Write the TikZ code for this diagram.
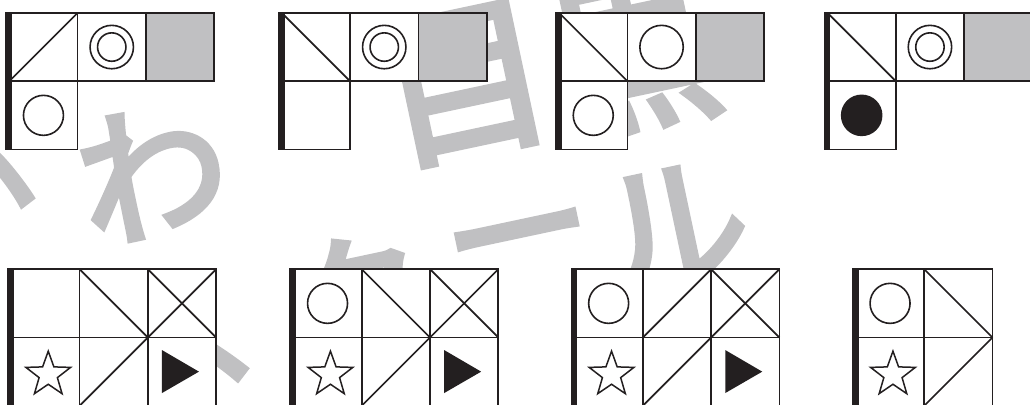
\documentclass[tikz,border=0pt]{standalone}
\usepackage{fontspec}
\newfontfamily\wmfont[FakeBold=3.5]{Noto Sans CJK JP}
\usetikzlibrary{calc}
\definecolor{ink}{RGB}{35,31,32}
\definecolor{wm}{RGB}{192,192,194}
\definecolor{cellgray}{RGB}{192,192,194}
\begin{document}
\begin{tikzpicture}[x=1pt,y=-1pt,
  cellbox/.style={draw=ink, line width=1.7pt, fill=white, minimum size=68.3pt, inner sep=0pt, outer sep=0pt},
  graybox/.style={cellbox, fill=cellgray},
  ring/.style={draw=ink, line width=1.6pt, circle, inner sep=0pt, minimum size=#1},
  dot/.style={fill=ink, circle, inner sep=0pt, minimum size=41.6pt},
  diag/.style={draw=ink, line width=1.7pt},
  sidebar/.style={fill=ink},
  wmtext/.style={text=wm, font=\wmfont\fontsize{#1}{#1}\selectfont, rotate=12, inner sep=0pt},
  wmtext/.default=150,
  starpic/.pic={\draw[ink, line width=1.5pt, miter limit=10]
     (-90:23.5) -- (-54:9.6) -- (-18:23.5) -- (18:9.6) -- (54:23.5) -- (90:9.6)
     -- (126:23.5) -- (162:9.6) -- (198:23.5) -- (234:9.6) -- cycle;},
  tripic/.pic={\fill[ink] (-20,-21.6) -- (-20,21.4) -- (17,0) -- cycle;}
]
\useasboundingbox (0,0) rectangle (1030,404);
\clip (0,0) rectangle (1030,404);
\fill[white] (0,0) rectangle (1030,404);

% watermark
\node[wmtext] (wka) at (-38,203) {か};
\node[wmtext] (wwa) at (152,172) {わ};
\node[wmtext=170] (wme) at (465,84) {目};
\node[wmtext=170] (wku) at (633,57) {黒};
\node[wmtext] (wsu) at (178,336) {ス};
\node[wmtext] (wkk) at (355,302) {ク};
\node[wmtext] (wbo) at (522,254) {ー};
\node[wmtext] (wru) at (673,228) {ル};

% ---------- top row ----------
\begin{scope}[shift={(9.3,12.9)}]
  \node[cellbox] (t1a) at (34.15,34.15) {};
  \node[cellbox] (t1b) at (102.45,34.15) {};
  \node[graybox] (t1c) at (170.75,34.15) {};
  \node[cellbox] (t1d) at (34.15,102.45) {};
  \draw[diag] (t1a.south west) -- (t1a.north east);
  \node[ring=43.4pt] (t1bo) at (t1b) {};
  \node[ring=28.4pt] (t1bi) at (t1b) {};
  \node[ring=40pt] (t1do) at (t1d) {};
  \fill[sidebar] (-4,-0.9) rectangle (2.8,137.5);
\end{scope}

\begin{scope}[shift={(281.8,12.9)}]
  \node[cellbox] (t2a) at (34.15,34.15) {};
  \node[cellbox] (t2b) at (102.45,34.15) {};
  \node[graybox] (t2c) at (170.75,34.15) {};
  \node[cellbox] (t2d) at (34.15,102.45) {};
  \draw[diag] (t2a.north west) -- (t2a.south east);
  \node[ring=43.4pt] (t2bo) at (t2b) {};
  \node[ring=28.4pt] (t2bi) at (t2b) {};
  \fill[sidebar] (-4,-0.9) rectangle (2.8,137.5);
\end{scope}

\begin{scope}[shift={(559.1,12.9)}]
  \node[cellbox] (t3a) at (34.15,34.15) {};
  \node[cellbox] (t3b) at (102.45,34.15) {};
  \node[graybox] (t3c) at (170.75,34.15) {};
  \node[cellbox] (t3d) at (34.15,102.45) {};
  \draw[diag] (t3a.north west) -- (t3a.south east);
  \node[ring=43.4pt] (t3bo) at (t3b) {};
  \node[ring=40pt] (t3do) at (t3d) {};
  \fill[sidebar] (-4,-0.9) rectangle (2.8,137.5);
\end{scope}

\begin{scope}[shift={(827.5,12.9)}]
  \node[cellbox] (t4a) at (34.15,34.15) {};
  \node[cellbox] (t4b) at (102.45,34.15) {};
  \node[graybox] (t4c) at (170.75,34.15) {};
  \node[cellbox] (t4d) at (34.15,102.45) {};
  \draw[diag] (t4a.north west) -- (t4a.south east);
  \node[ring=43.4pt] (t4bo) at (t4b) {};
  \node[ring=28.4pt] (t4bi) at (t4b) {};
  \node[dot] (t4dd) at (t4d) {};
  \fill[sidebar] (-4,-0.9) rectangle (2.8,137.5);
\end{scope}

% ---------- bottom row ----------
\begin{scope}[shift={(11.2,269.2)}]
  \node[cellbox] (b1a) at (34.15,34.15) {};
  \node[cellbox] (b1b) at (102.45,34.15) {};
  \node[cellbox] (b1c) at (170.75,34.15) {};
  \node[cellbox] (b1d) at (34.15,102.45) {};
  \node[cellbox] (b1e) at (102.45,102.45) {};
  \node[cellbox] (b1f) at (170.75,102.45) {};
  \draw[diag] (b1b.north west) -- (b1b.south east);
  \draw[diag] (b1c.north west) -- (b1c.south east);
  \draw[diag] (b1c.south west) -- (b1c.north east);
  \draw[diag] (b1e.south west) -- (b1e.north east);
  \pic at ($(b1d)+(2.9,3)$) {starpic};
  \pic at (b1f) {tripic};
  \fill[sidebar] (-4,-0.9) rectangle (2.8,137.5);
\end{scope}

\begin{scope}[shift={(293.4,269.2)}]
  \node[cellbox] (b2a) at (34.15,34.15) {};
  \node[cellbox] (b2b) at (102.45,34.15) {};
  \node[cellbox] (b2c) at (170.75,34.15) {};
  \node[cellbox] (b2d) at (34.15,102.45) {};
  \node[cellbox] (b2e) at (102.45,102.45) {};
  \node[cellbox] (b2f) at (170.75,102.45) {};
  \node[ring=40pt] (b2ao) at (b2a) {};
  \draw[diag] (b2b.north west) -- (b2b.south east);
  \draw[diag] (b2c.north west) -- (b2c.south east);
  \draw[diag] (b2c.south west) -- (b2c.north east);
  \draw[diag] (b2e.south west) -- (b2e.north east);
  \pic at ($(b2d)+(2.9,3)$) {starpic};
  \pic at (b2f) {tripic};
  \fill[sidebar] (-4,-0.9) rectangle (2.8,137.5);
\end{scope}

\begin{scope}[shift={(574.5,269.2)}]
  \node[cellbox] (b3a) at (34.15,34.15) {};
  \node[cellbox] (b3b) at (102.45,34.15) {};
  \node[cellbox] (b3c) at (170.75,34.15) {};
  \node[cellbox] (b3d) at (34.15,102.45) {};
  \node[cellbox] (b3e) at (102.45,102.45) {};
  \node[cellbox] (b3f) at (170.75,102.45) {};
  \node[ring=40pt] (b3ao) at (b3a) {};
  \draw[diag] (b3b.south west) -- (b3b.north east);
  \draw[diag] (b3c.north west) -- (b3c.south east);
  \draw[diag] (b3c.south west) -- (b3c.north east);
  \draw[diag] (b3e.south west) -- (b3e.north east);
  \pic at ($(b3d)+(2.9,3)$) {starpic};
  \pic at (b3f) {tripic};
  \fill[sidebar] (-4,-0.9) rectangle (2.8,137.5);
\end{scope}

\begin{scope}[shift={(855.9,269.2)}]
  \node[cellbox] (b4a) at (34.15,34.15) {};
  \node[cellbox] (b4b) at (102.45,34.15) {};
  \node[cellbox] (b4d) at (34.15,102.45) {};
  \node[cellbox] (b4e) at (102.45,102.45) {};
  \node[ring=40pt] (b4ao) at (b4a) {};
  \draw[diag] (b4b.north west) -- (b4b.south east);
  \draw[diag] (b4e.south west) -- (b4e.north east);
  \pic at ($(b4d)+(2.9,3)$) {starpic};
  \fill[sidebar] (-4,-0.9) rectangle (2.8,137.5);
\end{scope}
\end{tikzpicture}
\end{document}
